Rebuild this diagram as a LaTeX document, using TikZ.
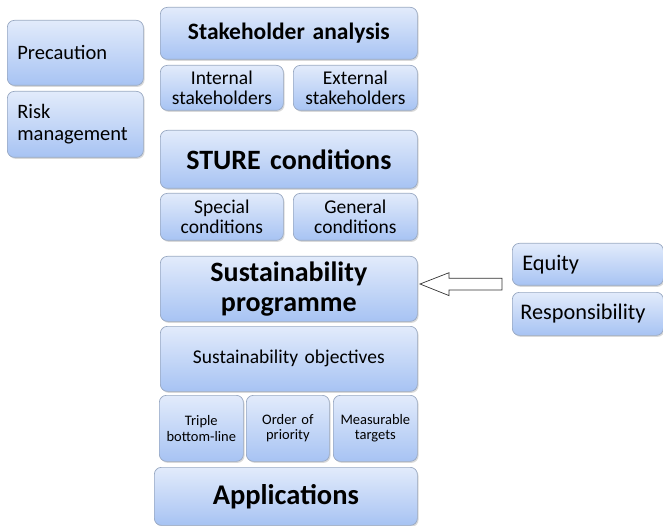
\documentclass[tikz,border=0pt]{standalone}
\usepackage{fontspec}
\setmainfont{Carlito}
\usetikzlibrary{shadows}
\definecolor{bTop}{HTML}{E2EBFB}
\definecolor{bBot}{HTML}{A7C3F3}
\definecolor{bEdge}{HTML}{98A8C2}
\tikzset{
  blk/.style={draw=bEdge, line width=0.7pt, rounded corners=7pt, top color=bTop, bottom color=bBot,
    drop shadow={shadow xshift=1.2pt, shadow yshift=-1.5pt, opacity=0.25, fill=black!60},
    inner sep=0pt, anchor=north west, text=black, align=center},
  fA/.style={font=\fontsize{23.5}{28}\selectfont\bfseries},
  fB/.style={font=\fontsize{28}{30}\selectfont\bfseries},
  fC/.style={font=\fontsize{28.5}{33}\selectfont\bfseries},
  fM/.style={font=\fontsize{19.5}{20.5}\selectfont},
  fS/.style={font=\fontsize{14.5}{15.5}\selectfont},
  fL/.style={font=\fontsize{20.5}{22}\selectfont, align=left},
  fR/.style={font=\fontsize{22.3}{26}\selectfont, align=left},
}
% #1 opts, #2 name, #3 x, #4 y, #5 w, #6 h, #7 text
\newcommand{\bx}[7][]{\node[blk, minimum width=#5pt, minimum height=#6pt, text width=#5pt-20pt, #1] (#2) at (#3pt,-#4pt) {#7};}
\begin{document}
\begin{tikzpicture}[x=1pt,y=1pt]
\useasboundingbox (0,0) rectangle (663,-526);
% left
\bx[fL]{prec}{7}{20}{136}{65}{Precaution}
\bx[fL]{risk}{7}{91}{136}{66}{Risk\\management}
% centre column
\bx[fA]{stake}{160}{7}{257}{52}{Stakeholder analysis}
\bx[fM]{intl}{160}{65}{123}{45}{Internal\\stakeholders}
\bx[fM]{extl}{293}{65}{124}{45}{External\\stakeholders}
\bx[fB]{sture}{160}{130}{257}{58}{STURE conditions}
\bx[fM]{spec}{160}{193}{123}{47}{Special\\conditions}
\bx[fM]{gen}{293}{193}{124}{47}{General\\conditions}
\bx[fB]{prog}{160}{256}{257}{65}{Sustainability\\programme}
\bx[fM]{obj}{160}{326}{257}{65}{Sustainability objectives}
\bx[fS, text width=80pt]{trip}{159}{395}{84}{66}{Triple\\bottom-line}
\bx[fS, text width=80pt]{ord}{246}{395}{83}{66}{Order of\\priority}
\bx[fS, text width=80pt]{meas}{333}{395}{84}{66}{Measurable\\targets}
\bx[fC]{app}{154}{467}{263}{58}{Applications}
% right
\bx[fR]{eq}{512}{243}{151}{42}{Equity}
\bx[fR, text width=135pt]{resp}{512}{292}{151}{43}{Responsibility}
% hollow block arrow
\coordinate (tip) at (420,-284);
\draw[line width=0.7pt, fill=white, draw=black!80]
  (tip) -- ++(29,11.3) -- ++(0,-5.6) -- ++(53,0) -- ++(0,-11.7) -- ++(-53,0) -- ++(0,-5.6) -- cycle;
\end{tikzpicture}
\end{document}
